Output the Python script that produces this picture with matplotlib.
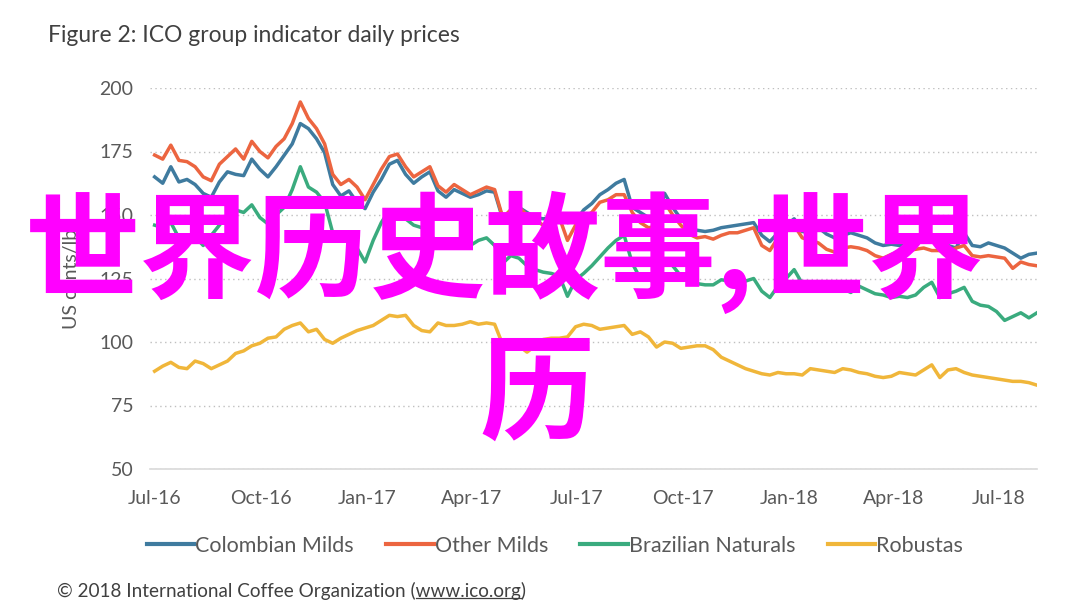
import matplotlib
matplotlib.use("Agg")
import matplotlib.pyplot as plt
import matplotlib.dates as mdates
from matplotlib.lines import Line2D
import pandas as pd

# ---------------- data ----------------
dates = pd.date_range("2016-07-01", periods=110, freq="7D")

colombian_milds = [
    165, 162.5, 169, 163, 164, 162, 158.5, 157, 163, 167,
    166, 165.5, 172, 168, 165, 169, 173.5, 178, 186, 184,
    180, 174.5, 162, 157.5, 159.5, 155, 152.5, 159, 164, 170,
    171.5, 166, 162.5, 165, 167, 159.5, 157, 160, 158.5, 157,
    158, 159.5, 159, 148.5, 152, 153, 151, 149, 148.5, 149,
    150, 147, 147.5, 152, 154.5, 158, 160, 162.5, 164, 153,
    151, 149, 147.5, 158.5, 153, 148.5, 145, 144, 143.5, 144,
    145, 145.5, 146, 146.5, 147, 142, 139.5, 143, 146, 148.5,
    143.5, 143, 145, 142.5, 141, 142, 143, 142, 141, 139,
    138, 138.5, 138, 138, 139, 139.5, 140, 139.5, 138, 137,
    143, 138, 137.5, 139, 138, 137, 135, 133, 134.5, 135,
]

other_milds = [
    173.6, 172, 177.5, 171.5, 171, 169, 165, 163.5, 170, 173,
    176, 172, 179, 175, 172.5, 177, 180, 186, 194.5, 188,
    184, 178, 166, 162, 164, 161, 156, 162, 168, 173,
    174, 169, 165, 167, 169, 161.5, 159, 162, 160, 158,
    159.5, 161, 160, 149, 152, 153, 150, 148, 146, 147,
    149, 140, 146, 149, 151, 155, 156, 158, 158, 151,
    147, 145, 145.5, 155, 150, 146, 142.5, 141, 141.5, 140.5,
    142, 143, 143, 144, 145, 138, 136, 141, 143.5, 146,
    141, 140, 139, 136.5, 135.4, 137, 137.5, 137, 136, 134,
    133, 134.5, 135.4, 136, 136.5, 137, 136, 136, 135.5, 137,
    138, 134, 133.5, 134, 133.5, 133, 129, 131.5, 130.5, 130,
]

brazilian_naturals = [
    146, 145, 147, 141, 140, 141.5, 138, 142, 146, 150,
    152, 151, 154, 149, 146.5, 150, 153, 160, 169, 161,
    159, 155, 143, 140, 141.5, 137, 131.5, 140, 147, 152,
    151, 148.5, 146, 145, 142, 139.5, 140, 139, 140, 138,
    140, 141, 138, 131, 134, 133, 130, 128.5, 127.5, 127,
    126, 118, 124.5, 127, 130, 133.5, 137, 140, 142, 131,
    125, 124.5, 123.5, 132, 130, 126, 124, 123, 122.5, 122.5,
    124.5, 124, 122.5, 124, 125, 120, 117.5, 122, 125, 128.5,
    123, 122, 121.5, 123, 122.5, 121, 119.5, 122, 120.5, 119,
    118.5, 117.5, 118, 117.5, 118.5, 121.5, 123.5, 117.5, 119, 120,
    121.5, 116, 114.5, 114, 112, 108.5, 110, 111.5, 109.5, 111.5,
]

robustas = [
    88.5, 90.5, 92, 90, 89.5, 92.5, 91.5, 89.5, 91, 92.5,
    95.5, 96.5, 98.5, 99.5, 101.5, 102, 105, 106.5, 107.5, 104,
    105, 101, 99.5, 101.5, 103, 104.5, 105.5, 106.5, 108.5, 110.5,
    110, 110.5, 106.5, 104.5, 104, 107.5, 106.5, 106.5, 107, 108,
    107, 107.5, 107, 99, 100, 98.5, 96, 98.5, 101, 101.5,
    101.5, 102, 106, 107, 106.5, 105, 105.5, 106, 106.5, 103,
    104, 102, 98, 100, 99.5, 97.5, 98, 98.5, 98.5, 97,
    94, 92.5, 91, 89.5, 88.5, 87.5, 87, 88, 87.5, 87.5,
    87, 89.5, 89, 88.5, 88, 89.5, 89, 88, 87.5, 86.5,
    86, 86.5, 88, 87.5, 87, 89, 91, 86, 89, 89.5,
    88, 87, 86.5, 86, 85.5, 85, 84.5, 84.5, 84, 83,
]

series_names = ["Colombian Milds", "Other Milds", "Brazilian Naturals", "Robustas"]
series_values = [colombian_milds, other_milds, brazilian_naturals, robustas]
series_colors = ["#3F7B9F", "#EC6540", "#3AAB7E", "#F0B63A"]

y_ticks = [50, 75, 100, 125, 150, 175, 200]
x_tick_dates = pd.date_range("2016-07-01", "2018-07-01", freq="3MS")

title_text = "Figure 2: ICO group indicator daily prices"
y_label = "US cents/lb"
footer_prefix = "\u00a9 2018 International Coffee Organization ("
footer_link = "www.ico.org"
footer_suffix = ")"
overlay_line1 = "世界历史故事,世界"
overlay_line2 = "历"

# ---------------- figure ----------------
W, H = 1080, 609
fig = plt.figure(figsize=(W / 100, H / 100), dpi=100)
fig.patch.set_facecolor("white")
latin = "Lato"
text_col = "#595959"

ax = fig.add_axes([150 / W, 1 - 469 / H, 887 / W, (469 - 88) / H])
for name, vals, col in zip(series_names, series_values, series_colors):
    ax.plot(dates, vals, color=col, lw=2.5, label=name, solid_joinstyle="round")

ax.set_ylim(50, 200)
ax.set_yticks(y_ticks)
ax.set_xlim(pd.Timestamp("2016-06-27"), pd.Timestamp("2018-08-03"))
ax.set_xticks(x_tick_dates)
ax.xaxis.set_major_formatter(mdates.DateFormatter("%b-%y"))

for sp in ["top", "right", "left"]:
    ax.spines[sp].set_visible(False)
ax.spines["bottom"].set_color("#D9D9D9")
ax.spines["bottom"].set_linewidth(1.2)
ax.tick_params(axis="both", length=0, labelsize=14, labelcolor=text_col)
ax.tick_params(axis="y", pad=12)
ax.tick_params(axis="x", pad=15)
for lab in ax.get_xticklabels() + ax.get_yticklabels():
    lab.set_fontfamily(latin)
ax.yaxis.grid(True, color="#BFBFBF", lw=1.0, linestyle=(0, (1, 2.5)))
ax.set_axisbelow(True)
ax.set_ylabel(y_label, fontsize=14, color=text_col, family=latin, labelpad=14)

leg = fig.legend(loc="center", bbox_to_anchor=(555 / W, 1 - 546 / H), ncol=4,
                 frameon=False, handlelength=2.2, handletextpad=0.05,
                 columnspacing=1.5, prop={"family": latin, "size": 15.5})
for t in leg.get_texts():
    t.set_color(text_col)
for h in leg.legend_handles:
    h.set_linewidth(3)

fig.text(48 / W, 1 - 36 / H, title_text, fontsize=16.5, color="#404040",
         family=latin, va="center", ha="left")

# footer with underlined link
fy = 1 - 591 / H
fx = 57 / W
fsz = 13.6
foot = fig.text(fx, fy, footer_prefix + footer_link + footer_suffix, fontsize=fsz,
                color="#404040", family=latin, va="center", ha="left")
fig.canvas.draw()
r = fig.canvas.get_renderer()
pre = fig.text(fx, fy, footer_prefix, fontsize=fsz, family=latin, va="center", ha="left")
lnk = fig.text(fx, fy, footer_link, fontsize=fsz, family=latin, va="center", ha="left")
w_pre = pre.get_window_extent(r).width
w_lnk = lnk.get_window_extent(r).width
bb = foot.get_window_extent(r)
pre.remove(); lnk.remove()
x0 = (bb.x0 + w_pre) / W
x1 = (bb.x0 + w_pre + w_lnk) / W
yl = (bb.y0 + 2) / H
fig.add_artist(Line2D([x0, x1], [yl, yl], transform=fig.transFigure, color="#404040", lw=0.9))

# overlay watermark text
fig.text(505 / W, 1 - 252 / H, overlay_line1, fontsize=83, color="#FF00FF",
         family=["Noto Sans CJK SC", "DejaVu Sans"], weight="bold", ha="center", va="center")
fig.text(537 / W, 1 - 397 / H, overlay_line2, fontsize=83, color="#FF00FF",
         family=["Noto Sans CJK SC", "DejaVu Sans"], weight="bold", ha="center", va="center")

fig.savefig("out.png", dpi=100)
